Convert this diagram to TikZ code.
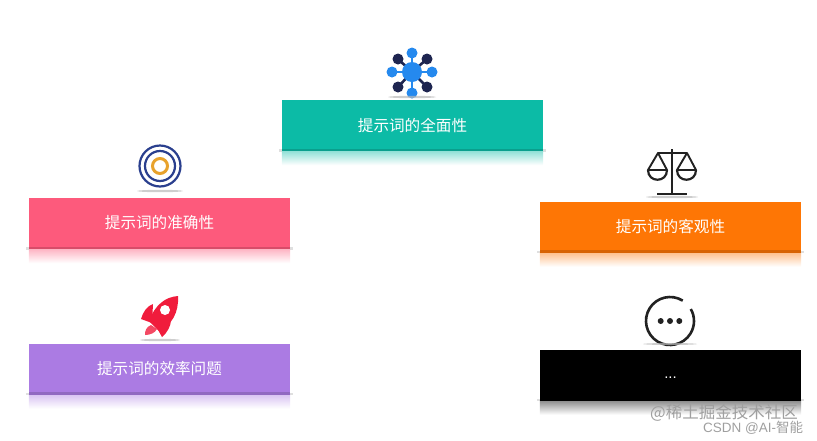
\documentclass[tikz,border=0pt]{standalone}
\usepackage{fontspec}
\usepackage{xcolor}
\newfontfamily\cjk{Noto Sans CJK SC}
\newfontfamily\latin{Liberation Sans}
\definecolor{cardteal}{HTML}{0CBBA6}
\definecolor{cardpink}{HTML}{FD5A7C}
\definecolor{cardorange}{HTML}{FE7605}
\definecolor{cardpurple}{HTML}{AB7BE3}
\definecolor{cardblack}{HTML}{000000}
\definecolor{netblue}{HTML}{2589EE}
\definecolor{netnavy}{HTML}{1E2550}
\definecolor{ringnavy}{HTML}{2A3F8E}
\definecolor{ringgold}{HTML}{E8A22C}
\definecolor{rocketred}{HTML}{F01C3C}
\definecolor{iconblack}{HTML}{222222}
\tikzset{
    cardbox/.style={minimum width=261pt, minimum height=50pt, inner sep=0pt, text=white,
        font=\cjk\fontsize{15.6}{18}\selectfont},
    marktext/.style={text=gray!75, inner sep=0pt, anchor=west},
    netlink/.style={line width=2.6pt},
    groundmark/.style={fill=gray!55, opacity=0.7},
}

\begin{document}
\begin{tikzpicture}[x=1pt, y=-1pt]
    \useasboundingbox (0,0) rectangle (817,440);
    % cards
    \node[cardbox, fill=cardteal] (full) at (412.5,125) {提示词的全面性};
    \node[cardbox, fill=cardpink] (exact) at (159.5,223) {提示词的准确性};
    \node[cardbox, fill=cardorange] (fair) at (670.5,226.5) {提示词的客观性};
    \node[cardbox, fill=cardpurple] (speed) at (159.5,368.5) {提示词的效率问题};
    \node[cardbox, fill=cardblack, font=\latin\fontsize{15}{18}\selectfont] (more) at (670.5,374.5) {\raisebox{-4pt}[0pt][0pt]{...}};
    % reflections under the cards
    \foreach \cardname/\cardcolor in {full/cardteal, exact/cardpink, fair/cardorange, speed/cardpurple, more/cardblack}{
        \fill[gray!25]
            ([xshift=-3pt,yshift=1pt]\cardname.south west) rectangle ([xshift=3pt,yshift=-1.5pt]\cardname.south east);
        \shade[top color=\cardcolor!45, bottom color=white]
            ([yshift=-1pt]\cardname.south west) rectangle ([yshift=-15pt]\cardname.south east);
        \fill[\cardcolor!85!black]
            ([yshift=1.5pt]\cardname.south west) rectangle ([yshift=-1pt]\cardname.south east);
    }
    % network icon
    \foreach \tipx/\tipy in {412/53, 412/93, 392/72, 432/72}{
        \draw[netblue, netlink] (412,72) -- (\tipx,\tipy);
        \fill[netblue] (\tipx,\tipy) circle (5.5pt);
    }
    \foreach \tipx/\tipy in {398/59, 427/59, 398/87, 427/87}{
        \draw[netnavy, netlink] (412,72) -- (\tipx,\tipy);
        \fill[netnavy] (\tipx,\tipy) circle (5.5pt);
    }
    \fill[netblue] (412,72) circle (10pt);
    \fill[groundmark] (412,97) ellipse (24pt and 1.2pt);
    % target icon
    \draw[ringnavy, line width=2.2pt] (160,166) circle (20.5pt);
    \draw[ringnavy, line width=2.2pt] (160,166) circle (15pt);
    \draw[ringgold, line width=3pt] (160,166) circle (7.5pt);
    \fill[groundmark] (160,191) ellipse (23pt and 1.2pt);
    % rocket icon
    \fill[rocketred!80!white] (151,325) .. controls (146,327) and (145,331) .. (145,335)
        .. controls (150,335) and (155,333) .. (157,329) -- cycle;
    \fill[rocketred] (153,304) .. controls (147,306) and (143,312) .. (141,319) -- (152,323) -- cycle;
    \fill[rocketred] (171,320) .. controls (171,326) and (167,333) .. (162,337) -- (157,328) -- cycle;
    \fill[rocketred] (178,296) .. controls (165,297) and (155,305) .. (149,321)
        -- (159,331) .. controls (172,325) and (179,312) .. (178,296) -- cycle;
    \fill[white] (165,310) circle (5pt);
    \fill[groundmark] (160,340) ellipse (20pt and 1.2pt);
    % scales icon
    \draw[iconblack, line width=2.4pt] (672,149) -- (672,194);
    \draw[iconblack, line width=2.4pt] (657,194) -- (687,194);
    \draw[iconblack, line width=2.2pt] (658,153) -- (687,153);
    \draw[iconblack, line width=1.9pt, line join=round] (658,153) -- (648,170) -- (667,170) -- cycle;
    \draw[iconblack, line width=1.9pt, line join=round] (687,153) -- (677,170) -- (696,170) -- cycle;
    \draw[iconblack, line width=2.2pt] (648,170) .. controls (648,183) and (667,183) .. (667,170);
    \draw[iconblack, line width=2.2pt] (677,170) .. controls (677,183) and (696,183) .. (696,170);
    \fill[groundmark] (672,197) ellipse (26pt and 1.2pt);
    % dots icon
    \draw[iconblack, line width=2.6pt] (670,321) ++(58:24pt) arc[start angle=58, end angle=390, radius=24pt];
    \foreach \dotx in {660.7,670,679.3}{
        \fill[iconblack] (\dotx,321) circle (3pt);
    }
    \fill[groundmark] (670,344) ellipse (27pt and 1pt);
    % watermarks
    \node[marktext, font=\cjk\fontsize{16.5}{18}\selectfont] (markone) at (650,413) {@稀土掘金技术社区};
    \node[marktext, font=\latin\fontsize{13.5}{14}\selectfont] (marktwo) at (703,428) {CSDN @AI-{\cjk 智能}};
\end{tikzpicture}
\end{document}
